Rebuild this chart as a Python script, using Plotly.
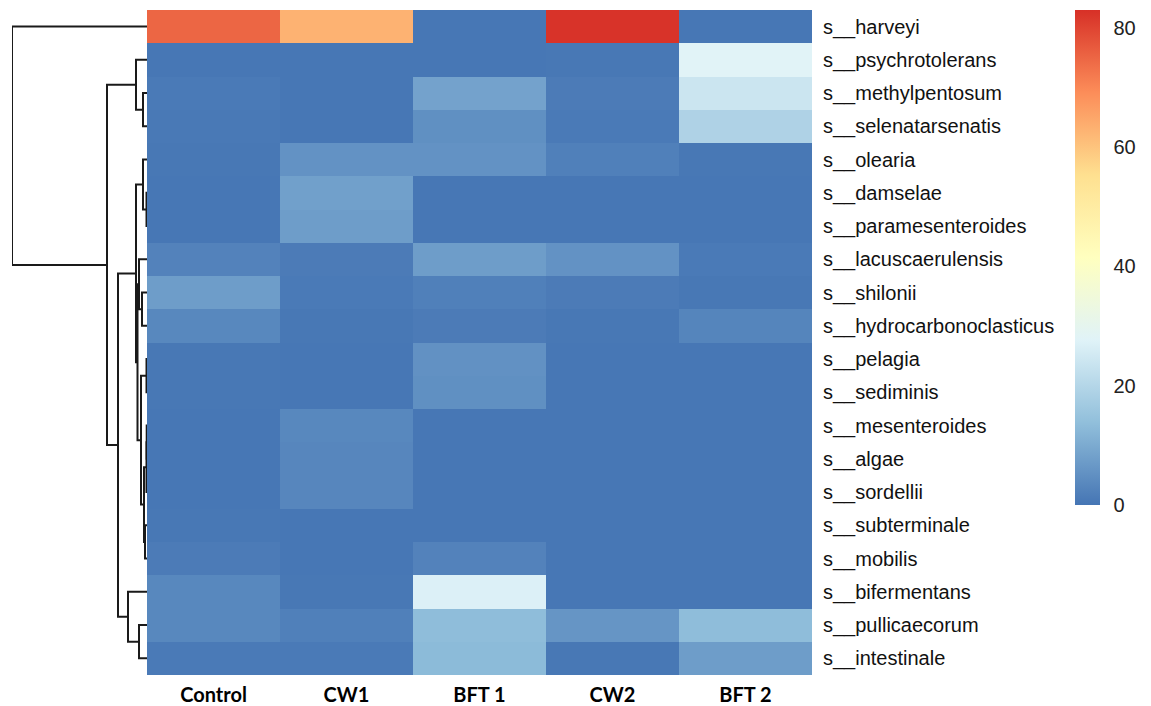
import plotly.graph_objects as go

# ---------------- data ----------------
samples = ["Control", "CW1", "BFT 1", "CW2", "BFT 2"]
species = [
    "s__harveyi", "s__psychrotolerans", "s__methylpentosum", "s__selenatarsenatis",
    "s__olearia", "s__damselae", "s__paramesenteroides", "s__lacuscaerulensis",
    "s__shilonii", "s__hydrocarbonoclasticus", "s__pelagia", "s__sediminis",
    "s__mesenteroides", "s__algae", "s__sordellii", "s__subterminale",
    "s__mobilis", "s__bifermentans", "s__pullicaecorum", "s__intestinale",
]
harveyi = [75, 63, 0.3, 82.5, 0.3]
psychrotolerans = [0.3, 0.3, 0.3, 0.5, 28]
methylpentosum = [1.0, 0.3, 8.5, 1.2, 24]
selenatarsenatis = [0.8, 0.3, 5.0, 1.0, 19]
olearia = [0.5, 5.5, 5.5, 2.0, 0.5]
damselae = [0.3, 8.0, 0.3, 0.3, 0.3]
paramesenteroides = [0.3, 7.5, 0.3, 0.3, 0.3]
lacuscaerulensis = [2.5, 1.2, 7.5, 5.5, 1.0]
shilonii = [7.5, 1.0, 2.0, 1.2, 0.5]
hydrocarbonoclasticus = [3.5, 0.5, 1.2, 0.5, 3.0]
pelagia = [0.5, 0.3, 5.2, 0.3, 0.3]
sediminis = [0.5, 0.3, 5.0, 0.3, 0.3]
mesenteroides = [0.3, 3.5, 0.3, 0.3, 0.3]
algae = [0.3, 3.2, 0.3, 0.3, 0.3]
sordellii = [0.3, 3.2, 0.3, 0.3, 0.3]
subterminale = [0.5, 0.3, 0.3, 0.3, 0.3]
mobilis = [1.2, 0.3, 2.5, 0.3, 0.3]
bifermentans = [3.5, 0.5, 27, 0.3, 0.3]
pullicaecorum = [3.5, 2.0, 13.5, 6.0, 13.5]
intestinale = [1.0, 1.0, 13.0, 0.5, 7.5]

values = [harveyi, psychrotolerans, methylpentosum, selenatarsenatis, olearia,
          damselae, paramesenteroides, lacuscaerulensis, shilonii,
          hydrocarbonoclasticus, pelagia, sediminis, mesenteroides, algae,
          sordellii, subterminale, mobilis, bifermentans, pullicaecorum,
          intestinale]

colorbar_ticks = [0, 20, 40, 60, 80]

# row dendrogram: (child a, child b, merge height); ints = leaf rows, strings = nodes
merges = {
    "n0": (5, 6, 0.5),
    "n1": (2, 3, 4),
    "n2": (1, "n1", 11),
    "n3": (4, "n0", 4),
    "n4": (8, 9, 5),
    "n5": (7, "n4", 8),
    "n6": (10, 11, 0.5),
    "n7": (12, 13, 0.3),
    "n8": ("n7", 14, 0.5),
    "n9": (15, 16, 2),
    "n10": ("n8", "n9", 3),
    "n11": ("n6", "n10", 6),
    "n12": ("n5", "n11", 9.5),
    "n13": ("n3", "n12", 11),
    "n14": (18, 19, 8),
    "n15": (17, "n14", 19),
    "n16": ("n13", "n15", 29),
    "n17": ("n2", "n16", 40),
    "n18": (0, "n17", 135),
}

# ---------------- figure ----------------
W, H = 1151, 706
hm_left, hm_right, hm_top, hm_bottom = 147, 812, 10, 675

palette = ["#4575B4", "#91BFDB", "#E0F3F8", "#FFFFBF", "#FEE090", "#FC8D59", "#D73027"]
colorscale = [[i / (len(palette) - 1), c] for i, c in enumerate(palette)]

fig = go.Figure()
fig.add_trace(go.Heatmap(
    z=values, x=list(range(len(samples))), y=list(range(len(species))),
    colorscale=colorscale, zmin=0, zmax=83, xgap=0, ygap=0,
    colorbar=dict(
        x=1075 / W, xanchor="left", y=1 - 10 / H, yanchor="top",
        xpad=0, ypad=0,
        thickness=25, thicknessmode="pixels",
        len=495 / H, lenmode="fraction",
        outlinewidth=0, tickvals=colorbar_ticks,
        ticks="outside", ticklen=10, tickcolor="rgba(0,0,0,0)",
        tickfont=dict(family="Liberation Sans, Arial", size=20, color="#222"),
    ),
    hoverinfo="skip",
))

# dendrogram segments computed from merge tree
pos = {}
def ypos(c):
    if isinstance(c, int):
        return float(c)
    if c in pos:
        return pos[c]
    a, b, _ = merges[c]
    pos[c] = (ypos(a) + ypos(b)) / 2
    return pos[c]

def hgt(c):
    return 0.0 if isinstance(c, int) else merges[c][2]

dx, dy = [], []
for name, (a, b, h) in merges.items():
    ya, yb = ypos(a), ypos(b)
    dx += [hgt(a), h, h, hgt(b), None]
    dy += [ya, ya, yb, yb, None]

fig.add_trace(go.Scatter(
    x=dx, y=dy, mode="lines", xaxis="x2", yaxis="y",
    line=dict(color="#1a1a1a", width=2), hoverinfo="skip", showlegend=False,
))

fig.update_layout(
    width=W, height=H, margin=dict(l=0, r=0, t=0, b=0),
    paper_bgcolor="white", plot_bgcolor="white",
    xaxis=dict(
        domain=[hm_left / W, hm_right / W], range=[-0.5, 4.5],
        tickvals=list(range(len(samples))), ticktext=samples,
        showgrid=False, zeroline=False, showline=False, ticks="",
        tickfont=dict(family="Lato, Open Sans", size=20, color="black", weight="bold"),
        ticklabelstandoff=6,
    ),
    yaxis=dict(
        domain=[1 - hm_bottom / H, 1 - hm_top / H], range=[19.5, -0.5],
        tickvals=list(range(len(species))), ticktext=species, side="right",
        showgrid=False, zeroline=False, showline=False, ticks="",
        tickfont=dict(family="Liberation Sans, Arial", size=20, color="#111"),
        ticklabelstandoff=10,
    ),
    xaxis2=dict(
        domain=[12 / W, hm_left / W], range=[135, 0], anchor="y",
        showgrid=False, zeroline=False, showline=False, showticklabels=False,
        ticks="",
    ),
)

fig.write_html(
    "out.html",
    config={"displayModeBar": False},
    post_script="document.body.style.margin='0';document.body.style.overflow='hidden';",
)
